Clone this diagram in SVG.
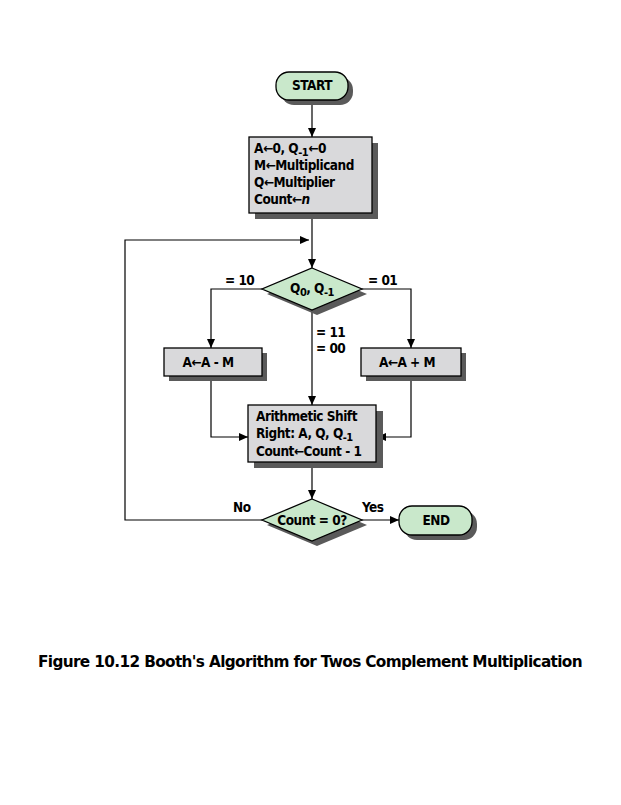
<svg xmlns="http://www.w3.org/2000/svg" width="621" height="805" viewBox="0 0 621 805">
<style>
.t{font-family:"DejaVu Sans Condensed","DejaVu Sans",sans-serif;font-weight:bold;font-size:13.5px;fill:#000;letter-spacing:-0.5px}
.s{font-size:11px}
.box{fill:#d9d9db;stroke:#000;stroke-width:1.3}
.grn{fill:#c9e8cb;stroke:#000;stroke-width:1.3}
.sh{fill:#5a5a5a}
.ln{fill:none;stroke:#000;stroke-width:1.2}
.cap{font-family:"DejaVu Sans Condensed","DejaVu Sans",sans-serif;font-weight:bold;font-size:16px;letter-spacing:-0.6px}
</style>
<defs>
<marker id="ah" markerWidth="10" markerHeight="10" refX="9" refY="5" orient="auto" markerUnits="userSpaceOnUse">
<path d="M0,1 L9,5 L0,9 Z" fill="#000"/>
</marker>
</defs>
<rect width="621" height="805" fill="#fff"/>
<g id="connectors">
<line class="ln" x1="312" y1="101" x2="312" y2="137" marker-end="url(#ah)"/>
<line class="ln" x1="312" y1="214" x2="312" y2="268" marker-end="url(#ah)"/>
<polyline class="ln" points="262,520 125,520 125,240 309,240" marker-end="url(#ah)"/>
<polyline class="ln" points="262,289 211,289 211,348" marker-end="url(#ah)"/>
<polyline class="ln" points="362,289 411,289 411,348" marker-end="url(#ah)"/>
<line class="ln" x1="312" y1="310" x2="312" y2="405" marker-end="url(#ah)"/>
<polyline class="ln" points="211,377 211,437 248,437" marker-end="url(#ah)"/>
<polyline class="ln" points="411,377 411,437 377,437" marker-end="url(#ah)"/>
<line class="ln" x1="312" y1="463" x2="312" y2="499" marker-end="url(#ah)"/>
<line class="ln" x1="362" y1="520" x2="399" y2="520" marker-end="url(#ah)"/>
<text class="t" x="225" y="285">= 10</text>
<text class="t" x="368" y="285">= 01</text>
<text class="t" x="316" y="337">= 11</text>
<text class="t" x="316" y="353">= 00</text>
<text class="t" x="233" y="512">No</text>
<text class="t" x="362" y="512">Yes</text>
</g>
<g id="start">
<rect class="sh" x="281" y="77" width="72" height="28" rx="13"/>
<rect class="grn" x="276" y="72" width="72" height="28" rx="13"/>
<text class="t" x="312" y="90" text-anchor="middle">START</text>
</g>
<g id="init">
<rect class="sh" x="255" y="143" width="123" height="76"/>
<rect class="box" x="249" y="137" width="123" height="76"/>
<text class="t" x="254" y="153">A←0, Q<tspan class="s" dy="3">-1</tspan><tspan dy="-3">←0</tspan></text>
<text class="t" x="254" y="170">M←Multiplicand</text>
<text class="t" x="254" y="187">Q←Multiplier</text>
<text class="t" x="254" y="204">Count←<tspan font-style="italic">n</tspan></text>
</g>
<g id="decision1">
<polygon class="sh" points="317,273 367,294 317,315 267,294"/>
<polygon class="grn" points="312,268 362,289 312,310 262,289"/>
<text class="t" x="312" y="293" text-anchor="middle">Q<tspan class="s" dy="3">0</tspan><tspan dy="-3">, Q</tspan><tspan class="s" dy="3">-1</tspan></text>
</g>
<g id="sub">
<rect class="sh" x="169" y="353" width="98" height="28"/>
<rect class="box" x="164" y="348" width="98" height="28"/>
<text class="t" x="208" y="367" text-anchor="middle">A←A - M</text>
</g>
<g id="add">
<rect class="sh" x="366" y="353" width="100" height="28"/>
<rect class="box" x="361" y="348" width="100" height="28"/>
<text class="t" x="407" y="367" text-anchor="middle">A←A + M</text>
</g>
<g id="shift">
<rect class="sh" x="254" y="411" width="129" height="57"/>
<rect class="box" x="248" y="405" width="128" height="57"/>
<text class="t" x="256" y="421">Arithmetic Shift</text>
<text class="t" x="256" y="438">Right: A, Q, Q<tspan class="s" dy="3">-1</tspan></text>
<text class="t" x="256" y="456">Count←Count - 1</text>
</g>
<g id="decision2">
<polygon class="sh" points="317,504 367,525 317,546 267,525"/>
<polygon class="grn" points="312,499 362,520 312,541 262,520"/>
<text class="t" x="312" y="525" text-anchor="middle">Count = 0?</text>
</g>
<g id="end">
<rect class="sh" x="404" y="511" width="73" height="29" rx="13"/>
<rect class="grn" x="399" y="506" width="73" height="29" rx="13"/>
<text class="t" x="436" y="525" text-anchor="middle">END</text>
</g>
<text class="cap" x="38" y="667" textLength="544" lengthAdjust="spacingAndGlyphs">Figure 10.12  Booth's Algorithm for Twos Complement Multiplication</text>
</svg>
